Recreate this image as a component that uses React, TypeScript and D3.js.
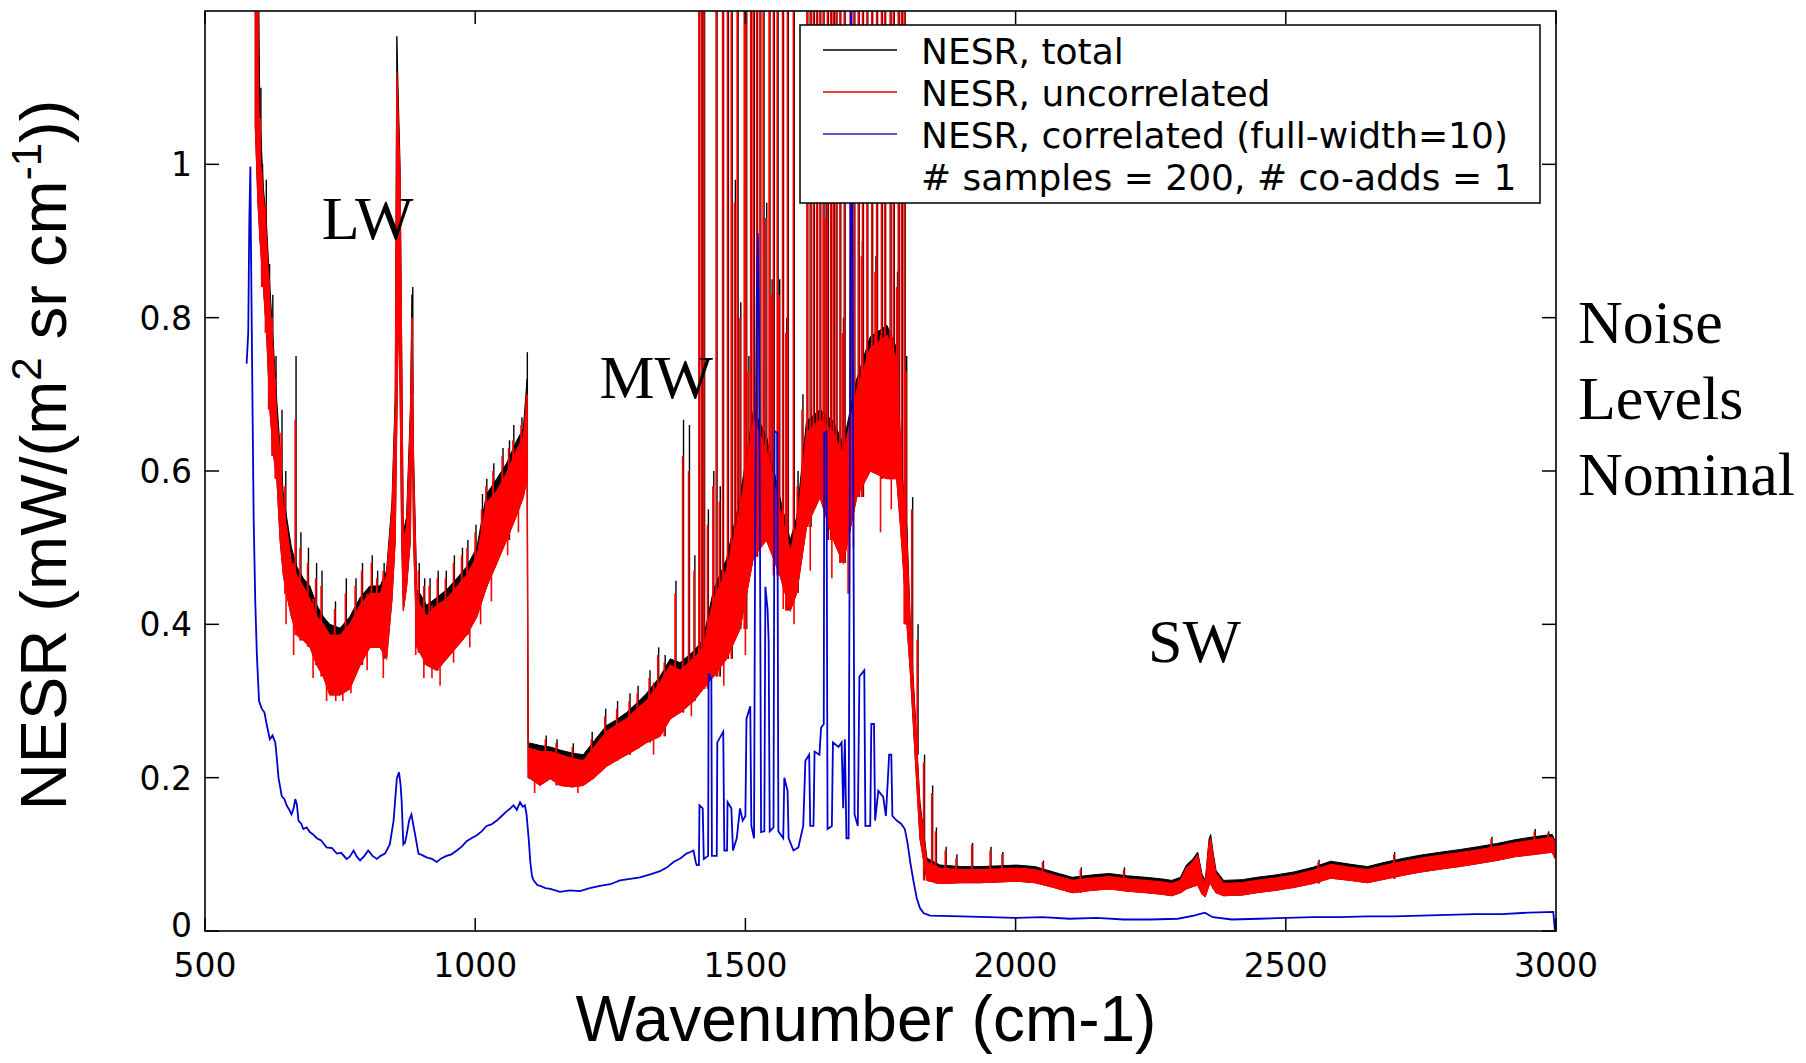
import React from "react";
import * as d3 from "d3";

const W = 1806;
const H = 1063;
const PLOT = { left: 205, right: 1556, top: 11, bottom: 931 };

const xTicks = [500, 1000, 1500, 2000, 2500, 3000];
const yTicks = [0, 0.2, 0.4, 0.6, 0.8, 1];
const xDomain: [number, number] = [500, 3000];
const yDomain: [number, number] = [0, 1.2];

const legendLabels = [
  "NESR, total",
  "NESR, uncorrelated",
  "NESR, correlated (full-width=10)",
  "# samples = 200, # co-adds = 1",
];
const bandLabels = [
  { t: "LW", w: 716, v: 0.903 },
  { t: "MW", w: 1230, v: 0.695 },
  { t: "SW", w: 2245, v: 0.351 },
];
const sideNote = ["Noise", "Levels", "Nominal"];

// noise band of the total/uncorrelated NESR: [wavenumber, red low, red high, black high]
const lwBand: number[][] = [
  [593, 1.05, 1.3, 1.3], [598, 0.95, 1.12, 1.25], [602, 0.9, 1.01, 1.06], [608, 0.84, 0.956, 0.97],
  [614, 0.78, 0.9, 0.92], [620, 0.68, 0.82, 0.84], [627, 0.62, 0.745, 0.76], [633, 0.59, 0.667, 0.69],
  [639, 0.51, 0.62, 0.63], [645, 0.464, 0.55, 0.57], [651, 0.44, 0.527, 0.54], [660, 0.41, 0.48, 0.5],
  [670, 0.386, 0.464, 0.475], [682, 0.379, 0.449, 0.46], [694, 0.371, 0.433, 0.45], [707, 0.347, 0.41, 0.425],
  [719, 0.332, 0.4, 0.41], [731, 0.308, 0.386, 0.4], [750, 0.308, 0.386, 0.395], [768, 0.316, 0.4, 0.41],
  [787, 0.347, 0.425, 0.435], [805, 0.37, 0.44, 0.45], [824, 0.37, 0.44, 0.45], [836, 0.355, 0.464, 0.47],
  [846, 0.433, 0.55, 0.56], [852, 0.51, 0.683, 0.7], [855, 0.667, 1.12, 1.167], [858, 0.82, 1.05, 1.08],
  [861, 0.706, 0.98, 1.0], [864, 0.51, 0.745, 0.76], [867, 0.418, 0.51, 0.52], [873, 0.449, 0.527, 0.54],
  [880, 0.51, 0.667, 0.68], [883, 0.7, 0.8, 0.83], [886, 0.51, 0.605, 0.62], [892, 0.371, 0.433, 0.445],
  [898, 0.363, 0.425, 0.44], [910, 0.347, 0.41, 0.425], [929, 0.34, 0.425, 0.435], [947, 0.355, 0.433, 0.445],
  [966, 0.371, 0.449, 0.46], [984, 0.386, 0.464, 0.475], [1003, 0.41, 0.488, 0.5], [1021, 0.449, 0.558, 0.57],
  [1040, 0.48, 0.574, 0.59], [1058, 0.51, 0.597, 0.61], [1077, 0.543, 0.628, 0.64], [1089, 0.566, 0.644, 0.655],
  [1096, 0.59, 0.7, 0.72],
];
const mwBand: number[][] = [
  [1098, 0.2, 0.238, 0.245], [1102, 0.199, 0.238, 0.245], [1120, 0.19, 0.234, 0.242], [1139, 0.199, 0.234, 0.24],
  [1157, 0.19, 0.23, 0.236], [1180, 0.188, 0.225, 0.232], [1200, 0.19, 0.222, 0.23], [1220, 0.2, 0.24, 0.248],
  [1243, 0.215, 0.26, 0.268], [1260, 0.222, 0.268, 0.275], [1280, 0.23, 0.277, 0.285], [1300, 0.238, 0.29, 0.298],
  [1317, 0.246, 0.3, 0.31], [1342, 0.254, 0.324, 0.332], [1361, 0.277, 0.347, 0.355], [1379, 0.285, 0.34, 0.35],
  [1404, 0.3, 0.355, 0.365], [1422, 0.316, 0.37, 0.38], [1441, 0.332, 0.433, 0.445], [1465, 0.355, 0.47, 0.485],
  [1490, 0.394, 0.55, 0.565], [1515, 0.488, 0.667, 0.68], [1539, 0.51, 0.628, 0.645], [1564, 0.464, 0.55, 0.565],
  [1583, 0.418, 0.496, 0.51], [1595, 0.441, 0.527, 0.54], [1613, 0.527, 0.65, 0.665], [1638, 0.566, 0.667, 0.68],
  [1663, 0.51, 0.65, 0.665], [1681, 0.48, 0.62, 0.635], [1706, 0.566, 0.706, 0.72], [1731, 0.6, 0.76, 0.775],
  [1762, 0.59, 0.777, 0.79], [1780, 0.59, 0.745, 0.76], [1789, 0.51, 0.59, 0.605], [1799, 0.4, 0.51, 0.525],
  [1805, 0.34, 0.394, 0.405], [1814, 0.23, 0.277, 0.285], [1823, 0.121, 0.16, 0.168], [1836, 0.066, 0.09, 0.095],
];
const swBand: number[][] = [
  [1860, 0.062, 0.082, 0.086], [1900, 0.063, 0.08, 0.084], [1934, 0.063, 0.08, 0.084], [1970, 0.064, 0.081, 0.085],
  [2002, 0.065, 0.082, 0.086], [2036, 0.063, 0.08, 0.084], [2070, 0.057, 0.073, 0.077], [2105, 0.05, 0.066, 0.07],
  [2140, 0.053, 0.069, 0.073], [2173, 0.055, 0.071, 0.075], [2207, 0.052, 0.068, 0.072], [2241, 0.05, 0.066, 0.07],
  [2270, 0.048, 0.064, 0.068], [2289, 0.046, 0.062, 0.066], [2305, 0.05, 0.066, 0.07], [2316, 0.055, 0.082, 0.086],
  [2328, 0.058, 0.09, 0.094], [2337, 0.06, 0.099, 0.103], [2345, 0.048, 0.07, 0.074], [2351, 0.045, 0.062, 0.066],
  [2358, 0.06, 0.115, 0.12], [2361, 0.062, 0.121, 0.126], [2366, 0.055, 0.095, 0.1], [2371, 0.05, 0.075, 0.079],
  [2385, 0.046, 0.062, 0.066], [2420, 0.047, 0.063, 0.067], [2446, 0.05, 0.066, 0.07], [2480, 0.053, 0.069, 0.073],
  [2515, 0.057, 0.073, 0.077], [2550, 0.062, 0.079, 0.083], [2583, 0.069, 0.087, 0.091], [2620, 0.066, 0.083, 0.087],
  [2651, 0.063, 0.08, 0.084], [2685, 0.068, 0.086, 0.09], [2719, 0.073, 0.091, 0.095], [2750, 0.077, 0.095, 0.099],
  [2788, 0.081, 0.099, 0.103], [2820, 0.084, 0.102, 0.106], [2856, 0.088, 0.106, 0.11], [2890, 0.092, 0.11, 0.114],
  [2924, 0.097, 0.115, 0.119], [2960, 0.1, 0.119, 0.123], [2993, 0.103, 0.122, 0.126], [2998, 0.095, 0.115, 0.118],
];

// single-channel spikes above the band: [wavenumber, red top, black top]
const lwSpikes: number[][] = [
  [598, 1.3, 1.3], [602, 1.06, 1.1], [605, 0.99, 1.0], [612, 0.95, 0.98], [618, 0.85, 0.87], [624, 0.8, 0.83],
  [630, 0.72, 0.75], [641, 0.65, 0.68], [648, 0.58, 0.6], [667, 0.667, 0.75], [676, 0.5, 0.52], [690, 0.48, 0.5],
  [705, 0.46, 0.48], [715, 0.45, 0.47], [740, 0.42, 0.43], [760, 0.44, 0.46], [778, 0.45, 0.46], [790, 0.47, 0.48],
  [808, 0.48, 0.49], [818, 0.46, 0.47], [830, 0.47, 0.48], [842, 0.5, 0.52], [883, 0.8, 0.84], [895, 0.47, 0.48],
  [905, 0.45, 0.46], [915, 0.45, 0.46], [930, 0.46, 0.47], [945, 0.46, 0.47], [960, 0.48, 0.49], [975, 0.49, 0.5],
  [985, 0.5, 0.51], [1000, 0.52, 0.53], [1012, 0.55, 0.57], [1020, 0.58, 0.59], [1033, 0.6, 0.61], [1050, 0.62, 0.63],
  [1062, 0.63, 0.64], [1070, 0.64, 0.66], [1085, 0.66, 0.67], [1095, 0.7, 0.755],
];
const mwSpikes: number[][] = [
  [1130, 0.25, 0.255], [1150, 0.245, 0.25], [1180, 0.24, 0.245], [1215, 0.25, 0.26], [1240, 0.28, 0.29],
  [1262, 0.29, 0.3], [1285, 0.3, 0.31], [1300, 0.31, 0.32], [1322, 0.33, 0.34], [1338, 0.36, 0.37], [1350, 0.35, 0.36],
  [1370, 0.44, 0.457], [1384, 0.62, 0.667], [1395, 0.6, 0.66], [1405, 0.47, 0.49], [1414, 1.3, 1.3], [1419, 1.3, 1.3],
  [1423, 1.3, 1.3], [1430, 0.53, 0.55], [1440, 0.58, 0.6], [1446, 1.3, 1.3], [1452, 0.56, 0.58], [1458, 1.3, 1.3],
  [1467, 1.3, 1.3], [1474, 1.3, 1.3], [1480, 0.95, 0.98], [1485, 1.3, 1.3], [1490, 0.8, 0.82], [1498, 1.3, 1.3],
  [1501, 1.3, 1.3], [1505, 0.73, 0.75], [1510, 1.3, 1.3], [1515, 1.3, 1.3], [1521, 1.3, 1.3], [1527, 1.3, 1.3],
  [1533, 1.3, 1.3], [1538, 0.93, 0.95], [1544, 1.3, 1.3], [1548, 0.83, 0.85], [1552, 1.3, 1.3], [1559, 1.3, 1.3],
  [1562, 0.83, 0.85], [1569, 1.3, 1.3], [1575, 0.78, 0.8], [1578, 1.3, 1.3], [1589, 1.3, 1.3], [1596, 0.58, 0.6],
  [1605, 0.68, 0.7], [1614, 1.3, 1.3], [1620, 1.3, 1.3], [1626, 1.3, 1.3], [1632, 1.3, 1.3], [1638, 1.3, 1.3],
  [1644, 1.3, 1.3], [1648, 0.93, 0.95], [1652, 1.3, 1.3], [1658, 1.3, 1.3], [1663, 1.3, 1.3], [1668, 1.3, 1.3],
  [1675, 1.3, 1.3], [1680, 0.78, 0.8], [1683, 1.3, 1.3], [1694, 1.3, 1.3], [1701, 1.3, 1.3], [1709, 1.3, 1.3],
  [1715, 0.88, 0.9], [1717, 1.3, 1.3], [1725, 1.3, 1.3], [1734, 1.3, 1.3], [1740, 0.86, 0.88], [1743, 1.3, 1.3],
  [1752, 1.3, 1.3], [1758, 1.3, 1.3], [1768, 1.3, 1.3], [1774, 1.3, 1.3], [1780, 0.84, 0.86], [1783, 1.3, 1.3],
  [1789, 1.3, 1.3], [1794, 1.3, 1.3], [1797, 0.73, 0.75], [1808, 0.55, 0.566], [1818, 0.38, 0.4], [1830, 0.22, 0.23],
  [1845, 0.18, 0.19], [1852, 0.13, 0.135],
];
const swSpikes: number[][] = [
  [1870, 0.105, 0.11], [1890, 0.095, 0.1], [1919, 0.113, 0.115], [1953, 0.105, 0.11], [1975, 0.1, 0.103],
  [2050, 0.09, 0.092], [2120, 0.08, 0.083], [2200, 0.08, 0.083], [2560, 0.09, 0.093], [2700, 0.1, 0.103],
  [2880, 0.12, 0.123], [2960, 0.13, 0.133], [2985, 0.128, 0.13],
];
// spikes below the band: [wavenumber, red bottom]
const dipSpikes: number[][] = [
  [650, 0.4], [664, 0.36], [700, 0.33], [725, 0.3], [742, 0.3], [755, 0.3], [770, 0.31], [800, 0.34], [830, 0.33],
  [890, 0.36], [905, 0.33], [920, 0.33], [935, 0.32], [960, 0.35], [990, 0.37], [1010, 0.4], [1030, 0.43],
  [1060, 0.49], [1080, 0.52], [1110, 0.18], [1190, 0.18], [1330, 0.23], [1400, 0.28], [1460, 0.32], [1500, 0.36],
  [1570, 0.42], [1590, 0.4], [1620, 0.47], [1660, 0.46], [1690, 0.44], [1700, 0.5], [1750, 0.52], [1770, 0.55],
];

// correlated NESR: [wavenumber, value]
const blueLW: number[][] = [
  [577, 0.74], [580, 0.78], [582, 0.925], [584, 0.997], [585, 0.9], [588, 0.68], [590, 0.54], [593, 0.43],
  [596, 0.36], [600, 0.3], [605, 0.29], [610, 0.285], [614, 0.27], [620, 0.25], [625, 0.255], [630, 0.246],
  [633, 0.225], [636, 0.2], [642, 0.176], [647, 0.172], [651, 0.164], [656, 0.158], [660, 0.152], [664, 0.16],
  [667, 0.172], [670, 0.165], [673, 0.144], [678, 0.14], [682, 0.133], [688, 0.135], [694, 0.129], [700, 0.126],
  [707, 0.121], [715, 0.118], [725, 0.109], [735, 0.108], [744, 0.101], [752, 0.102], [762, 0.094], [768, 0.097],
  [775, 0.105], [781, 0.097], [787, 0.092], [795, 0.098], [802, 0.105], [810, 0.098], [818, 0.094], [825, 0.098],
  [833, 0.101], [842, 0.113], [849, 0.144], [855, 0.199], [859, 0.207], [862, 0.19], [864, 0.168], [867, 0.113],
  [870, 0.115], [873, 0.125], [878, 0.145], [882, 0.152], [885, 0.14], [889, 0.125], [895, 0.101], [902, 0.099],
  [910, 0.096], [920, 0.094], [929, 0.09], [938, 0.095], [947, 0.098], [956, 0.1], [966, 0.105], [975, 0.11],
  [984, 0.117], [993, 0.121], [1003, 0.125], [1012, 0.13], [1021, 0.137], [1030, 0.139], [1040, 0.144], [1049, 0.15],
  [1058, 0.156], [1065, 0.16], [1071, 0.164], [1077, 0.158], [1083, 0.168], [1088, 0.162], [1092, 0.164], [1095, 0.152],
  [1099, 0.12], [1102, 0.09], [1105, 0.072], [1108, 0.066], [1115, 0.06], [1120, 0.059], [1130, 0.056], [1139, 0.055],
];
const blueMW: number[][] = [
  [1157, 0.051], [1175, 0.053], [1194, 0.052], [1212, 0.056], [1231, 0.059], [1250, 0.061], [1268, 0.066],
  [1287, 0.068], [1305, 0.07], [1324, 0.074], [1342, 0.078], [1355, 0.083], [1367, 0.09], [1380, 0.095],
  [1391, 0.101], [1398, 0.103], [1404, 0.105], [1408, 0.09], [1410, 0.086], [1414, 0.086], [1415, 0.164],
  [1421, 0.16], [1423, 0.094], [1431, 0.098], [1432, 0.336], [1437, 0.328], [1438, 0.098], [1447, 0.098],
  [1448, 0.246], [1459, 0.26], [1461, 0.105], [1466, 0.105], [1467, 0.168], [1474, 0.16], [1477, 0.105],
  [1484, 0.121], [1490, 0.16], [1495, 0.144], [1500, 0.15], [1502, 0.277], [1509, 0.293], [1511, 0.137],
  [1516, 0.121], [1518, 0.511], [1521, 0.82], [1523, 0.91], [1525, 0.8], [1527, 0.511], [1529, 0.129],
  [1535, 0.13], [1537, 0.449], [1541, 0.42], [1543, 0.379], [1545, 0.13], [1552, 0.135], [1554, 0.652],
  [1559, 0.65], [1561, 0.13], [1570, 0.121], [1572, 0.2], [1578, 0.183], [1580, 0.121], [1589, 0.105],
  [1598, 0.109], [1607, 0.137], [1611, 0.222], [1618, 0.23], [1620, 0.137], [1626, 0.137], [1628, 0.234],
  [1637, 0.23], [1640, 0.265], [1645, 0.27], [1646, 0.65], [1650, 0.652], [1652, 0.133], [1660, 0.137],
  [1662, 0.246], [1672, 0.24], [1678, 0.246], [1681, 0.16], [1684, 0.25], [1687, 0.121], [1691, 0.121],
  [1693, 0.51], [1696, 1.3], [1699, 0.7], [1702, 0.152], [1708, 0.137], [1711, 0.332], [1720, 0.34],
  [1722, 0.137], [1731, 0.137], [1733, 0.27], [1738, 0.27], [1740, 0.144], [1746, 0.183], [1755, 0.175],
  [1760, 0.15], [1766, 0.23], [1770, 0.23], [1772, 0.15], [1780, 0.144], [1788, 0.14], [1795, 0.133],
  [1800, 0.115], [1805, 0.09], [1811, 0.065], [1817, 0.043], [1823, 0.03], [1830, 0.023], [1842, 0.02],
];
const blueSW: number[][] = [
  [1900, 0.019], [1950, 0.018], [2000, 0.017], [2050, 0.018], [2100, 0.016], [2150, 0.017], [2200, 0.015],
  [2250, 0.015], [2300, 0.016], [2330, 0.02], [2350, 0.024], [2365, 0.018], [2400, 0.015], [2450, 0.016],
  [2500, 0.017], [2550, 0.018], [2600, 0.018], [2650, 0.019], [2700, 0.019], [2750, 0.02], [2800, 0.021],
  [2850, 0.022], [2900, 0.022], [2950, 0.024], [2995, 0.025], [2998, 0.0],
];

const RED = "#ff0000";
const BLUE = "#0000d0";
const TICK_FONT = "'DejaVu Sans', sans-serif";
const TITLE_FONT = "'Liberation Sans', Arial, sans-serif";
const SERIF = "'Liberation Serif', 'Times New Roman', serif";

export default function App() {
  const x = d3.scaleLinear().domain(xDomain).range([PLOT.left, PLOT.right]);
  const y = d3.scaleLinear().domain(yDomain).range([PLOT.bottom, PLOT.top]);

  const band = [...lwBand, ...mwBand, ...swBand];
  const bisect = d3.bisector((d: number[]) => d[0]).center;
  const nearest = (w: number) => band[bisect(band, w)];

  const redArea = d3.area<number[]>().x((d) => x(d[0])).y0((d) => y(d[1])).y1((d) => y(d[2]));
  const blackArea = d3.area<number[]>().x((d) => x(d[0])).y0((d) => y(d[1])).y1((d) => y(d[3]));
  const line = d3.line<number[]>().x((d) => x(d[0])).y((d) => y(d[1]));
  const blue = [...blueLW, ...blueMW, ...blueSW];
  const spikes = [...lwSpikes, ...mwSpikes, ...swSpikes];

  const legendX = 800, legendY = 25, legendW = 740, legendH = 178;
  const legendColors = ["#000000", "#e00000", "#2020c0", null];

  return (
    <svg width={W} height={H} style={{ position: "absolute", left: 0, top: 0, background: "#fff" }}>
      <rect x={0} y={0} width={W} height={H} fill="#fff" />
      <defs>
        <clipPath id="plotClip">
          <rect x={PLOT.left} y={PLOT.top} width={PLOT.right - PLOT.left} height={PLOT.bottom - PLOT.top} />
        </clipPath>
      </defs>

      <g clipPath="url(#plotClip)">
        <path d={blackArea(band) || ""} fill="#000" stroke="#000" strokeWidth={1} />
        {spikes.map((s, i) => (
          <line key={"bs" + i} x1={x(s[0]) + 0.8} x2={x(s[0]) + 0.8} y1={y(nearest(s[0])[1])} y2={y(s[2])}
            stroke="#000" strokeWidth={1.4} />
        ))}
        <path d={redArea(band) || ""} fill={RED} stroke={RED} strokeWidth={1.2} />
        {spikes.map((s, i) => (
          <line key={"rs" + i} x1={x(s[0])} x2={x(s[0])} y1={y(nearest(s[0])[1])} y2={y(s[1])}
            stroke={RED} strokeWidth={1.8} />
        ))}
        {dipSpikes.map((s, i) => (
          <line key={"ds" + i} x1={x(s[0])} x2={x(s[0])} y1={y(nearest(s[0])[2])} y2={y(s[1])}
            stroke={RED} strokeWidth={1.6} />
        ))}
        <path d={line(blue) || ""} fill="none" stroke={BLUE} strokeWidth={1.8} />
      </g>

      {/* frame */}
      <rect x={PLOT.left} y={PLOT.top} width={PLOT.right - PLOT.left} height={PLOT.bottom - PLOT.top}
        fill="none" stroke="#000" strokeWidth={1.6} />
      {xTicks.map((t) => (
        <g key={"xt" + t}>
          <line x1={x(t)} x2={x(t)} y1={PLOT.bottom} y2={PLOT.bottom - 13} stroke="#000" strokeWidth={1.5} />
          <line x1={x(t)} x2={x(t)} y1={PLOT.top} y2={PLOT.top + 13} stroke="#000" strokeWidth={1.5} />
          <text x={x(t)} y={977} textAnchor="middle" fontFamily={TICK_FONT} fontSize={33} fill="#000">{t}</text>
        </g>
      ))}
      {yTicks.map((t) => (
        <g key={"yt" + t}>
          <line x1={PLOT.left} x2={PLOT.left + 14} y1={y(t)} y2={y(t)} stroke="#000" strokeWidth={1.5} />
          <line x1={PLOT.right} x2={PLOT.right - 14} y1={y(t)} y2={y(t)} stroke="#000" strokeWidth={1.5} />
          <text x={192} y={y(t) + (t === 0 ? 6 : 12)} textAnchor="end" fontFamily={TICK_FONT} fontSize={33} fill="#000">{String(t)}</text>
        </g>
      ))}

      {/* legend */}
      <rect x={legendX} y={legendY} width={legendW} height={legendH} fill="#fff" stroke="#000" strokeWidth={1.5} />
      {legendLabels.map((lab, i) => {
        const by = 64 + i * 42;
        const c = legendColors[i];
        return (
          <g key={"lg" + i}>
            {c && <line x1={823} x2={897} y1={by - 14} y2={by - 14} stroke={c} strokeWidth={1.3} />}
            <text x={921} y={by} fontFamily={TICK_FONT} fontSize={36} fill="#000">{lab}</text>
          </g>
        );
      })}

      {/* band labels */}
      {bandLabels.map((b) => (
        <text key={b.t} x={x(b.w)} y={y(b.v)} fontFamily={SERIF} fontSize={62} fill="#000">{b.t}</text>
      ))}
      {sideNote.map((s, i) => (
        <text key={s} x={1578} y={343 + i * 76} fontFamily={SERIF} fontSize={62} fill="#000">{s}</text>
      ))}

      {/* axis titles */}
      <text x={866} y={1041} textAnchor="middle" fontFamily={TITLE_FONT} fontSize={64} fill="#000">Wavenumber (cm-1)</text>
      <text transform="translate(66,455) rotate(-90)" textAnchor="middle" fontFamily={TITLE_FONT} fontSize={65} fill="#000">
        NESR (mW/(m<tspan fontSize={42} dy={-25}>2</tspan><tspan dy={25}> sr cm</tspan>
        <tspan fontSize={42} dy={-25}>-1</tspan><tspan dy={25}>))</tspan>
      </text>
    </svg>
  );
}
